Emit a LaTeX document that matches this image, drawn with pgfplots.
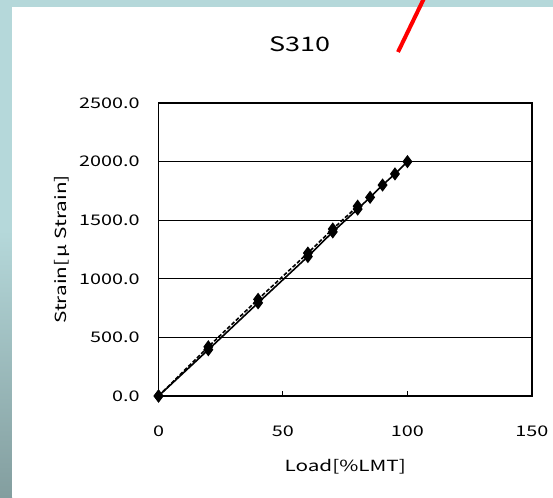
\documentclass[border=0pt]{standalone}
\usepackage{fontspec}
\setmainfont{Noto Sans CJK JP}[FakeStretch=1.35]
\usepackage{pgfplots}
\pgfplotsset{compat=1.18}

\definecolor{bgA}{RGB}{181,216,218}
\definecolor{bgB}{RGB}{131,158,159}

\begin{document}
\begin{tikzpicture}
\useasboundingbox (0,0) rectangle (414.75pt,372.75pt);
% backdrop of the slide
\fill[bgA] (0,0) rectangle (414.75pt,372.75pt);
\shade[top color=bgA, bottom color=bgB] (0,0) rectangle (9pt,200pt);
\fill[white] (9pt,0) rectangle (414.75pt,367.5pt);
\begin{scope}
\clip (0,0) rectangle (414.75pt,372.75pt);
\draw[red, line width=3pt] (298.5pt,333.75pt) -- (318pt,374pt);
\end{scope}

\node[anchor=base, font=\fontsize{15}{18}\selectfont] at (225pt,333.75pt) {S310};

\begin{axis}[
    at={(118.9pt,75.75pt)}, anchor=south west,
    scale only axis,
    width=280pt, height=219.75pt,
    xmin=0, xmax=150, ymin=0, ymax=2500,
    xtick={0,50,100,150},
    ytick={0,500,...,2500},
    ymajorgrids,
    major grid style={black, line width=0.75pt},
    axis line style={black, line width=1.1pt},
    tick align=inside,
    xtick pos=left,
    major tick length=4pt,
    xtick style={black, line width=0.75pt},
    ytick style={draw=none},
    /pgf/number format/assume math mode=true,
    ticklabel style={font=\fontsize{11}{13}\selectfont},
    xticklabel style={anchor=north, inner sep=0pt, yshift=-22pt},
    yticklabel style={anchor=east, inner sep=0pt, xshift=-14pt,
        /pgf/number format/.cd, fixed, fixed zerofill, precision=1, 1000 sep={}},
    xlabel={Load[\%LMT]},
    ylabel={Strain[\,μ Strain]},
    label style={font=\fontsize{11.5}{14}\selectfont},
    xlabel style={at={(axis description cs:0.5,-0.256)}, anchor=base, inner sep=0pt},
    ylabel style={at={(axis description cs:-0.246,0.5)}, anchor=base, inner sep=0pt},
    clip=false,
]
\addplot[black, line width=1.2pt, mark=diamond*, mark size=4pt,
    mark options={solid}] coordinates {
    (0,0) (20,395) (40,795) (60,1190) (70,1400) (80,1595)
    (85,1695) (90,1800) (95,1895) (100,2000)
};
\addplot[black, line width=1.2pt, dash pattern=on 3pt off 1.5pt, mark=diamond*, mark size=4pt,
    mark options={solid}] coordinates {
    (0,0) (20,420) (40,825) (60,1220) (70,1425) (80,1620)
};
\end{axis}
\end{tikzpicture}
\end{document}
